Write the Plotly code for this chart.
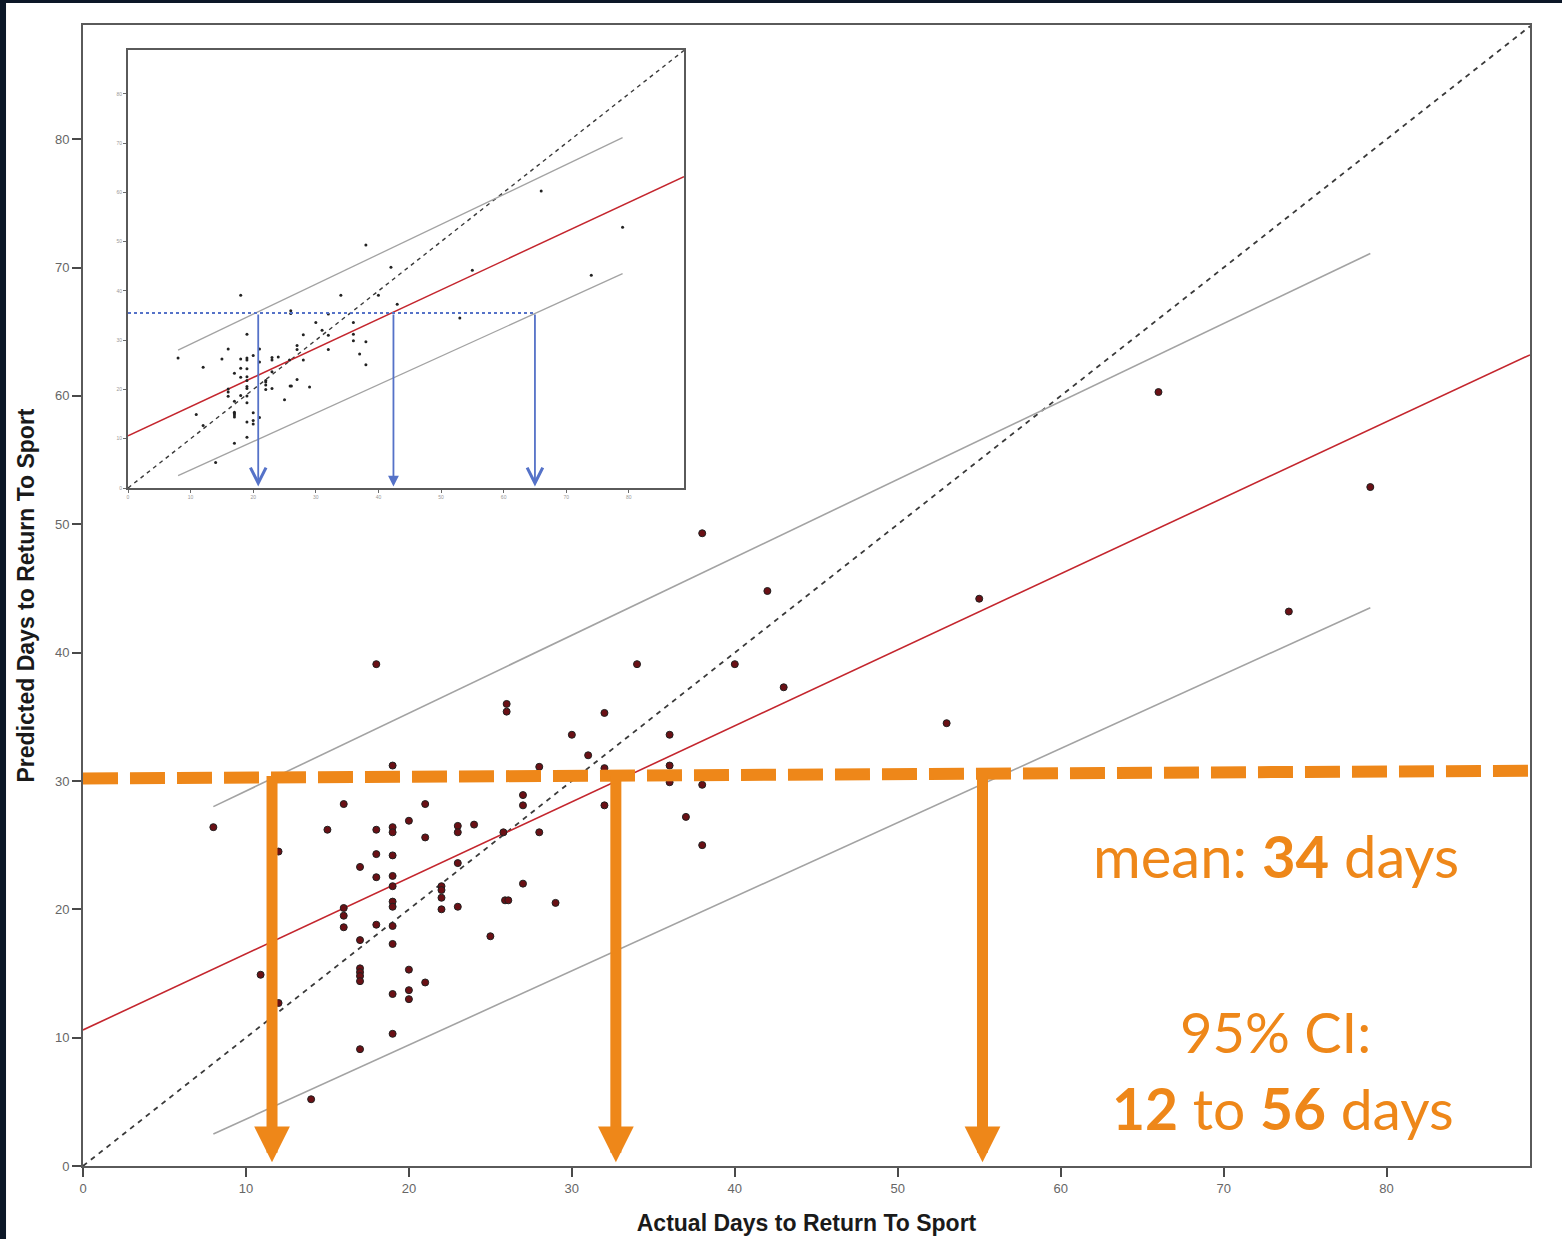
import plotly.graph_objects as go

# ---------------- data ----------------
actual_days = [8.0, 10.9, 12.0, 12.0, 14.0, 15.0, 16.0, 16.0, 16.0, 16.0,
               17.0, 17.0, 17.0, 17.0, 17.0, 17.0, 17.0, 18.0, 18.0, 18.0,
               18.0, 18.0, 19.0, 19.0, 19.0, 19.0, 19.0, 19.0, 19.0, 19.0,
               19.0, 19.0, 19.0, 19.0, 20.0, 20.0, 20.0, 20.0, 21.0, 21.0,
               21.0, 22.0, 22.0, 22.0, 22.0, 23.0, 23.0, 23.0, 23.0, 24.0,
               25.0, 26.0, 26.0, 25.8, 25.9, 26.1, 27.0, 27.0, 27.0, 28.0,
               28.0, 29.0, 30.0, 31.0, 32.0, 32.0, 32.0, 34.0, 36.0, 36.0,
               36.0, 37.0, 38.0, 38.0, 38.0, 40.0, 42.0, 43.0, 53.0, 55.0,
               66.0, 74.0, 79.0]
predicted_days = [26.4, 14.9, 24.5, 12.7, 5.2, 26.2, 28.2, 20.1, 19.5, 18.6,
                  23.3, 17.6, 15.4, 15.1, 14.8, 14.4, 9.1, 39.1, 26.2, 24.3,
                  22.5, 18.8, 31.2, 26.4, 26.0, 24.2, 22.6, 21.8, 20.6, 20.2,
                  18.7, 17.3, 13.4, 10.3, 26.9, 15.3, 13.7, 13.0, 28.2, 25.6,
                  14.3, 21.8, 21.5, 20.9, 20.0, 26.5, 26.0, 23.6, 20.2, 26.6,
                  17.9, 36.0, 35.4, 26.0, 20.7, 20.7, 28.9, 28.1, 22.0, 31.1,
                  26.0, 20.5, 33.6, 32.0, 35.3, 31.0, 28.1, 39.1, 33.6, 31.2,
                  29.9, 27.2, 49.3, 29.7, 25.0, 39.1, 44.8, 37.3, 34.5, 44.2,
                  60.3, 43.2, 52.9]

fit_x = [0, 88.8]
fit_y = [10.6, 63.2]
pi_x = [8.0, 79.0]
pi_upper_y = [28.0, 71.1]
pi_lower_y = [2.5, 43.5]
identity_x = [0, 88.8]
identity_y = [0, 88.8]

x_range = [0, 88.8]
y_range = [0, 88.9]
tick_vals = [0, 10, 20, 30, 40, 50, 60, 70, 80]
tick_text = ["0", "10", "20", "30", "40", "50", "60", "70", "80"]

cutoff_x = [0, 88.8]
cutoff_y = [30.2, 30.8]
ci_arrow_x = [11.6, 32.7, 55.2]
arrow_top_y = 30.5
arrow_tip_y = 0.3

inset_level_x = [0, 65.0]
inset_level_y = [35.5, 35.5]
inset_arrow_x = [20.8, 42.4, 65.0]
inset_arrow_head = ["chevron", "filled", "chevron"]

mean_label = "mean: <b>34</b> days"
ci_label_1 = "95% CI:"
ci_label_2 = "<b>12</b> to <b>56</b> days"
x_title = "Actual Days to Return To Sport"
y_title = "Predicted Days to Return To Sport"

# ---------------- styling ----------------
ORANGE = "#EE8719"
RED = "#C4262E"
GREY = "#A3A3A3"
BLUE = "#5572C8"
NARROW = "Liberation Sans Narrow, Arial Narrow, Liberation Sans, Arial, sans-serif"
CAL = "Lato, Open Sans, sans-serif"

fig = go.Figure()

# ---------- main chart ----------
fig.add_trace(go.Scatter(x=identity_x, y=identity_y, mode="lines",
                         line=dict(color="#3a3a3a", width=1.8, dash="5px,5px"),
                         hoverinfo="skip", showlegend=False))
fig.add_trace(go.Scatter(x=pi_x, y=pi_upper_y, mode="lines",
                         line=dict(color=GREY, width=1.6), showlegend=False))
fig.add_trace(go.Scatter(x=pi_x, y=pi_lower_y, mode="lines",
                         line=dict(color=GREY, width=1.6), showlegend=False))
fig.add_trace(go.Scatter(x=fit_x, y=fit_y, mode="lines",
                         line=dict(color=RED, width=1.6), showlegend=False))
fig.add_trace(go.Scatter(x=actual_days, y=predicted_days, mode="markers",
                         marker=dict(color="#6a1015", size=7,
                                     line=dict(color="#202020", width=1)),
                         showlegend=False))
fig.add_trace(go.Scatter(x=cutoff_x, y=cutoff_y, mode="lines",
                         line=dict(color=ORANGE, width=12, dash="35px,12px"),
                         showlegend=False))

# ---------- inset ----------
fig.add_trace(go.Scatter(x=identity_x, y=identity_y, mode="lines", xaxis="x2", yaxis="y2",
                         line=dict(color="#3a3a3a", width=1.4, dash="4px,4px"),
                         showlegend=False))
fig.add_trace(go.Scatter(x=pi_x, y=pi_upper_y, mode="lines", xaxis="x2", yaxis="y2",
                         line=dict(color=GREY, width=1.3), showlegend=False))
fig.add_trace(go.Scatter(x=pi_x, y=pi_lower_y, mode="lines", xaxis="x2", yaxis="y2",
                         line=dict(color=GREY, width=1.3), showlegend=False))
fig.add_trace(go.Scatter(x=fit_x, y=fit_y, mode="lines", xaxis="x2", yaxis="y2",
                         line=dict(color=RED, width=1.5), showlegend=False))
fig.add_trace(go.Scatter(x=actual_days, y=predicted_days, mode="markers", xaxis="x2", yaxis="y2",
                         marker=dict(color="#222222", size=3), showlegend=False))
fig.add_trace(go.Scatter(x=inset_level_x, y=inset_level_y, mode="lines", xaxis="x2", yaxis="y2",
                         line=dict(color=BLUE, width=2, dash="dot"), showlegend=False))

annotations = []
for xv in ci_arrow_x:
    annotations.append(dict(x=xv, y=arrow_tip_y, ax=xv, ay=arrow_top_y,
                            xref="x", yref="y", axref="x", ayref="y",
                            text="", showarrow=True, arrowhead=2, arrowsize=0.65,
                            arrowwidth=11, arrowcolor=ORANGE, standoff=0))
for xv, head in zip(inset_arrow_x, inset_arrow_head):
    annotations.append(dict(x=xv, y=arrow_tip_y, ax=xv, ay=inset_level_y[0],
                            xref="x2", yref="y2", axref="x2", ayref="y2",
                            text="", showarrow=True,
                            arrowhead=2 if head == "filled" else 5,
                            arrowsize=1.2 if head == "filled" else 1.7,
                            arrowwidth=1.8, arrowcolor=BLUE, standoff=0))
    if head == "chevron":
        annotations.append(dict(x=xv, y=arrow_tip_y + 1.6, ax=xv, ay=arrow_tip_y + 2.4,
                                xref="x2", yref="y2", axref="x2", ayref="y2",
                                text="", showarrow=True, arrowhead=5, arrowsize=1.7,
                                arrowwidth=1.8, arrowcolor=BLUE, standoff=0))

annotations += [
    dict(text=mean_label, x=0.8245, y=0.272, xref="paper", yref="paper",
         xanchor="center", yanchor="middle", showarrow=False,
         font=dict(family=CAL, size=58, color=ORANGE)),
    dict(text=ci_label_1, x=0.8238, y=0.118, xref="paper", yref="paper",
         xanchor="center", yanchor="middle", showarrow=False,
         font=dict(family=CAL, size=56, color=ORANGE)),
    dict(text=ci_label_2, x=0.829, y=0.051, xref="paper", yref="paper",
         xanchor="center", yanchor="middle", showarrow=False,
         font=dict(family=CAL, size=57, color=ORANGE)),
]

axis_common = dict(showgrid=False, zeroline=False, showline=True, mirror=True,
                   linecolor="#5a5a5a", linewidth=2, ticks="outside",
                   tickcolor="#4a4a4a", tickwidth=2, ticklen=9,
                   tickmode="array", tickvals=tick_vals, ticktext=tick_text,
                   automargin=False,
                   tickfont=dict(family=NARROW, size=13, color="#666666"))

inset_axis = dict(showgrid=False, zeroline=False, showline=True, mirror=True,
                  linecolor="#5a5a5a", linewidth=2, ticks="outside",
                  tickcolor="#6a6a6a", tickwidth=1, ticklen=3,
                  tickmode="array", tickvals=tick_vals, ticktext=tick_text,
                  automargin=False,
                  tickfont=dict(family=NARROW, size=5, color="#999999"))

fig.update_layout(
    width=1562, height=1239,
    margin=dict(l=83, r=32, t=25, b=73),
    paper_bgcolor="#0c1727",
    plot_bgcolor="white",
    xaxis=dict(range=x_range, domain=[0, 1], **axis_common,
               title=dict(text="<b>" + x_title + "</b>", standoff=20,
                          font=dict(family=NARROW, size=23, color="#1a1a1a"))),
    yaxis=dict(range=y_range, domain=[0, 1], **axis_common,
               title=dict(text="<b>" + y_title + "</b>", standoff=14,
                          font=dict(family=NARROW, size=23, color="#1a1a1a"))),
    xaxis2=dict(range=x_range, domain=[0.0311, 0.4153], anchor="y2", **inset_axis),
    yaxis2=dict(range=y_range, domain=[0.5942, 0.9781], anchor="x2", **inset_axis),
    annotations=annotations,
    shapes=[dict(type="rect", xref="paper", yref="paper",
                 x0=-0.0532, x1=1.03, y0=-0.07, y1=1.0193,
                 fillcolor="white", line=dict(width=0), layer="below")],
    showlegend=False,
)

fig.write_html("out.html")
